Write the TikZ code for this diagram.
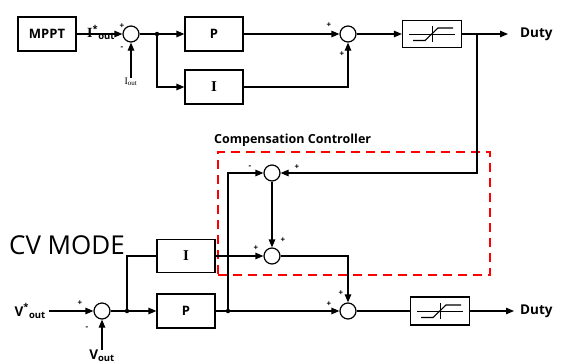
\documentclass[tikz,border=0pt]{standalone}
\usepackage{fontspec}
\setmainfont{Open Sans}
\newfontfamily\serifface{Liberation Serif}
\usepackage{tikz}
\usetikzlibrary{arrows.meta, positioning}

\begin{document}
\begin{tikzpicture}[x=1pt, y=-1pt,
  block/.style={
    rectangle, draw, line width=1.2pt,
    minimum width=58pt, minimum height=34pt,
    inner sep=0pt, font=\bfseries\fontsize{13}{15}\selectfont
  },
  sum/.style={circle, draw, line width=1.2pt, minimum size=16pt, inner sep=0pt},
  satbox/.style={
    rectangle, draw, line width=1.2pt,
    minimum width=59pt, minimum height=27pt, inner sep=0pt,
    path picture={
      \draw[line width=1pt]
        ([xshift=-23pt]path picture bounding box.center) --
        ([xshift=23pt]path picture bounding box.center);
      \draw[line width=1pt]
        ([yshift=-8pt]path picture bounding box.center) --
        ([yshift=8pt]path picture bounding box.center);
      \draw[line width=1.1pt]
        ([shift={(-19pt,-6.5pt)}]path picture bounding box.center) --
        ([shift={(-7pt,-6.5pt)}]path picture bounding box.center) --
        ([shift={(6pt,6pt)}]path picture bounding box.center) --
        ([shift={(21pt,6pt)}]path picture bounding box.center);
    }
  },
  arrow/.style={-{Triangle[length=8pt, width=6.5pt]}, line width=1.2pt},
  wire/.style={line width=1.2pt},
  sign/.style={font=\bfseries\fontsize{8}{9}\selectfont, inner sep=0pt},
  dot/.style={circle, fill, inner sep=0pt, minimum size=4.5pt},
  label/.style={font=\bfseries\fontsize{13.5}{15}\selectfont, inner sep=0pt},
  compbox/.style={draw=red, line width=1.3pt, dash pattern=on 9pt off 6pt,
    minimum width=272pt, minimum height=123pt, inner sep=0pt}
]
\useasboundingbox (0,0) rectangle (563,364);

% Upper loop (MPPT current control)
\node[block] (mppt) at (47,34) {MPPT};
\node[sum] (s1) at (131,34) {};
\node[font=\fontsize{10}{11}\selectfont, inner sep=0pt] (iout) at (131,82)
  {{\serifface I}\textsubscript{\serifface out}};
\node[label, anchor=south west] (iref) at (87,40)
  {{\serifface\fontsize{14}{15}\selectfont I}\textsuperscript{*}\textsubscript{out}};
\node[dot] (d1) at (157,34) {};
\node[block] (p1) at (214,34) {P};
\node[block] (i1) at (214,87) {\serifface\fontsize{15}{16}\selectfont I};
\node[sum] (s2) at (348,34) {};
\node[satbox] (sat1) at (432,34) {};
\coordinate (fb) at (477,34);
\node[label, anchor=west] (duty1) at (520,34) {Duty};

\draw[arrow] (mppt.east) -- (s1.west);
\draw[arrow] (iout.north) -- (s1.south);
\draw[wire] (s1.east) -- (d1);
\draw[arrow] (d1) -- (p1.west);
\draw[arrow] (d1) |- (i1.west);
\draw[arrow] (p1.east) -- (s2.west);
\draw[arrow] (i1.east) -| (s2.south);
\draw[arrow] (s2.east) -- (sat1.west);
\draw[arrow, shorten >=12pt] (sat1.east) -- (duty1.west);

% Compensation controller
\node[compbox] (comp) at (354,213.5) {};
\node[label, font=\bfseries\fontsize{12.5}{14}\selectfont, anchor=west] (comptxt) at (214,140)
  {Compensation Controller};
\node[sum] (c1) at (272,173) {};
\node[sum] (c2) at (272,256) {};

% Lower loop (CV mode)
\node[font=\fontsize{26}{28}\selectfont, inner sep=0pt] (cvmode) at (67,245) {CV MODE};
\node[label, anchor=east] (vref) at (46,311)
  {V\textsuperscript{*}\textsubscript{out}};
\node[label, anchor=north] (vout) at (102,350)
  {V\textsubscript{out}};
\node[sum] (s3) at (102,311) {};
\node[dot] (d2) at (127,311) {};
\node[block, minimum height=33pt] (i2) at (186,256) {\serifface\fontsize{15}{16}\selectfont I};
\node[block] (p2) at (186,311) {P};
\node[dot] (d3) at (228,311) {};
\node[sum] (s4) at (348,311) {};
\node[satbox, minimum height=28pt] (sat2) at (440,311) {};
\node[label, anchor=west] (duty2) at (520,311) {Duty};

\draw[arrow] (fb) |- (c1.east);
\draw[arrow] (d3) |- (c1.west);
\draw[arrow] (c1.south) -- (c2.north);
\draw[arrow] (i2.east) -- (c2.west);
\draw[arrow] (c2.east) -| (s4.north);

\draw[arrow, shorten <=3pt] (vref.east) -- (s3.west);
\draw[arrow] (vout.north) -- (s3.south);
\draw[wire] (s3.east) -- (d2);
\draw[arrow] (d2) -- (p2.west);
\draw[wire] (d2) |- (i2.west);
\draw[wire] (p2.east) -- (d3);
\draw[arrow] (d3) -- (s4.west);
\draw[wire] (s4.east) -- (sat2.west);
\draw[arrow, shorten >=6pt] (sat2.east) -- (duty2.west);

% Signs
\node[sign] (sg1) at (122,26) {+};
\node[sign] (sg2) at (122,48) {-};
\node[sign] (sg3) at (329,25) {+};
\node[sign] (sg4) at (342,54) {+};
\node[sign] (sg5) at (250,167) {-};
\node[sign] (sg6) at (297,167) {+};
\node[sign] (sg7) at (283,240) {+};
\node[sign] (sg8) at (256,248) {+};
\node[sign] (sg9) at (80,303) {+};
\node[sign] (sg10) at (87,328) {-};
\node[sign] (sg11) at (329,304) {+};
\node[sign] (sg12) at (341,293) {+};

\end{tikzpicture}
\end{document}
